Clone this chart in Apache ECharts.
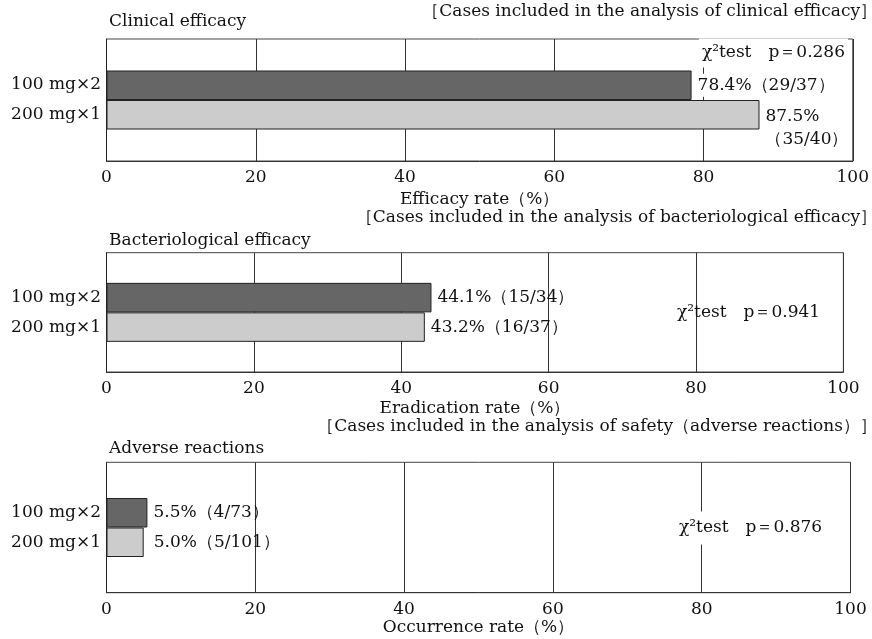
<!DOCTYPE html>
<html>
<head>
<meta charset="utf-8">
<script src="https://cdn.jsdelivr.net/npm/echarts@6/dist/echarts.min.js"></script>
<style>html,body{margin:0;padding:0;background:#fff;}#c{width:872px;height:639px;}</style>
</head>
<body>
<div id="c"></div>
<script>
// ---- data ----
const groups = ['100 mg×2', '200 mg×1'];
const clinicalRate = [78.4, 87.5];
const clinicalN = [29, 35];
const clinicalD = [37, 40];
const bactRate = [44.1, 43.2];
const bactN = [15, 16];
const bactD = [34, 37];
const adverseRate = [5.5, 5.0];
const adverseN = [4, 5];
const adverseD = [73, 101];
const pValues = ['0.286', '0.941', '0.876'];
const panelTitles = ['Clinical efficacy', 'Bacteriological efficacy', 'Adverse reactions'];
const populations = [
  '［Cases included in the analysis of clinical efficacy］',
  '［Cases included in the analysis of bacteriological efficacy］',
  '［Cases included in the analysis of safety（adverse reactions）］'
];
const axisNames = ['Efficacy rate（%）', 'Eradication rate（%）', 'Occurrence rate（%）'];
const xMin = 0, xMax = 100, xInterval = 20;

// ---- layout / style ----
const FONT = '"DejaVu Serif", "Liberation Serif", serif';
const FS = 17;
const TXT = '#111';
const barColors = ['#666666', '#cccccc'];
const grids = [
  { left: 106.5, top: 39, right: 17.5, height: 122 },
  { left: 106.5, top: 252.7, right: 28.6, height: 119.3 },
  { left: 106.5, top: 462.3, right: 21.5, height: 130.4 }
];
const nameGaps = [30, 28, 22];
const labelDistances = [[6, 6], [6, 6], [6, 10]];
const panels = [
  { rate: clinicalRate, n: clinicalN, d: clinicalD },
  { rate: bactRate, n: bactN, d: bactD },
  { rate: adverseRate, n: adverseN, d: adverseD }
];

const xAxes = [], yAxes = [], series = [];
panels.forEach((p, k) => {
  xAxes.push({
    type: 'value', gridIndex: k, min: xMin, max: xMax, interval: xInterval,
    name: axisNames[k], nameLocation: 'middle', nameGap: nameGaps[k],
    nameTextStyle: { color: TXT, fontFamily: FONT, fontSize: FS },
    axisLine: { show: true, lineStyle: { color: '#333', width: 1 } },
    axisTick: { show: false },
    axisLabel: { color: TXT, fontFamily: FONT, fontSize: FS, margin: 8 },
    splitLine: { show: true, lineStyle: { color: '#333', width: 1 } }
  });
  yAxes.push({
    type: 'category', gridIndex: k, inverse: true,
    data: [groups.join('\n')],
    axisLine: { show: true, lineStyle: { color: '#222', width: 1 } },
    axisTick: { show: false },
    axisLabel: { color: TXT, fontFamily: FONT, fontSize: FS, lineHeight: 30, margin: 5.5, align: 'right' },
    splitLine: { show: false }
  });
  groups.forEach((g, i) => {
    const special = (k === 0 && i === 1);
    series.push({
      type: 'bar', name: g, xAxisIndex: k, yAxisIndex: k,
      data: [p.rate[i]],
      barWidth: 29.5, barGap: '0%',
      itemStyle: { color: barColors[i], borderColor: '#222', borderWidth: 1 },
      label: {
        show: true, position: 'right', distance: labelDistances[k][i],
        color: TXT, fontFamily: FONT, fontSize: FS, lineHeight: 23,
        backgroundColor: k === 0 && i === 0 ? '#fff' : 'transparent',
        offset: special ? [0, 13] : [0, 0],
        formatter: () => p.rate[i].toFixed(1) + '%' + (special ? '\n' : '') + '（' + p.n[i] + '/' + p.d[i] + '）'
      },
      z: 3
    });
  });
});

const textStyle = (o) => Object.assign({ fill: TXT, fontFamily: FONT, fontSize: FS }, o);
const graphic = [
  { type: 'text', x: 109, y: 22, style: textStyle({ text: panelTitles[0], align: 'left', verticalAlign: 'middle' }) },
  { type: 'text', x: 109, y: 241, style: textStyle({ text: panelTitles[1], align: 'left', verticalAlign: 'middle' }) },
  { type: 'text', x: 109, y: 449, style: textStyle({ text: panelTitles[2], align: 'left', verticalAlign: 'middle' }) },
  { type: 'text', x: 877, y: 12, style: textStyle({ text: populations[0], align: 'right', verticalAlign: 'middle' }) },
  { type: 'text', x: 877, y: 218, style: textStyle({ text: populations[1], align: 'right', verticalAlign: 'middle' }) },
  { type: 'text', x: 877, y: 427, style: textStyle({ text: populations[2], align: 'right', verticalAlign: 'middle' }) },
  { type: 'text', x: 848, y: 53, z: 10, style: textStyle({ text: 'χ²test　p＝' + pValues[0], align: 'right', verticalAlign: 'middle', backgroundColor: '#fff', padding: [6, 3] }) },
  { type: 'text', x: 677, y: 313, z: 10, style: textStyle({ text: 'χ²test　p＝' + pValues[1], align: 'left', verticalAlign: 'middle' }) },
  { type: 'text', x: 677, y: 528, z: 10, style: textStyle({ text: 'χ²test　p＝' + pValues[2], align: 'left', verticalAlign: 'middle', backgroundColor: '#fff', padding: [8, 2] }) }
];

const chart = echarts.init(document.getElementById('c'), null, { renderer: 'canvas' });
chart.setOption({
  animation: false,
  backgroundColor: '#fff',
  grid: grids.map(g => Object.assign({ show: true, borderColor: '#444', borderWidth: 1, containLabel: false }, g)),
  xAxis: xAxes,
  yAxis: yAxes,
  series: series,
  graphic: graphic
});
</script>
</body>
</html>
